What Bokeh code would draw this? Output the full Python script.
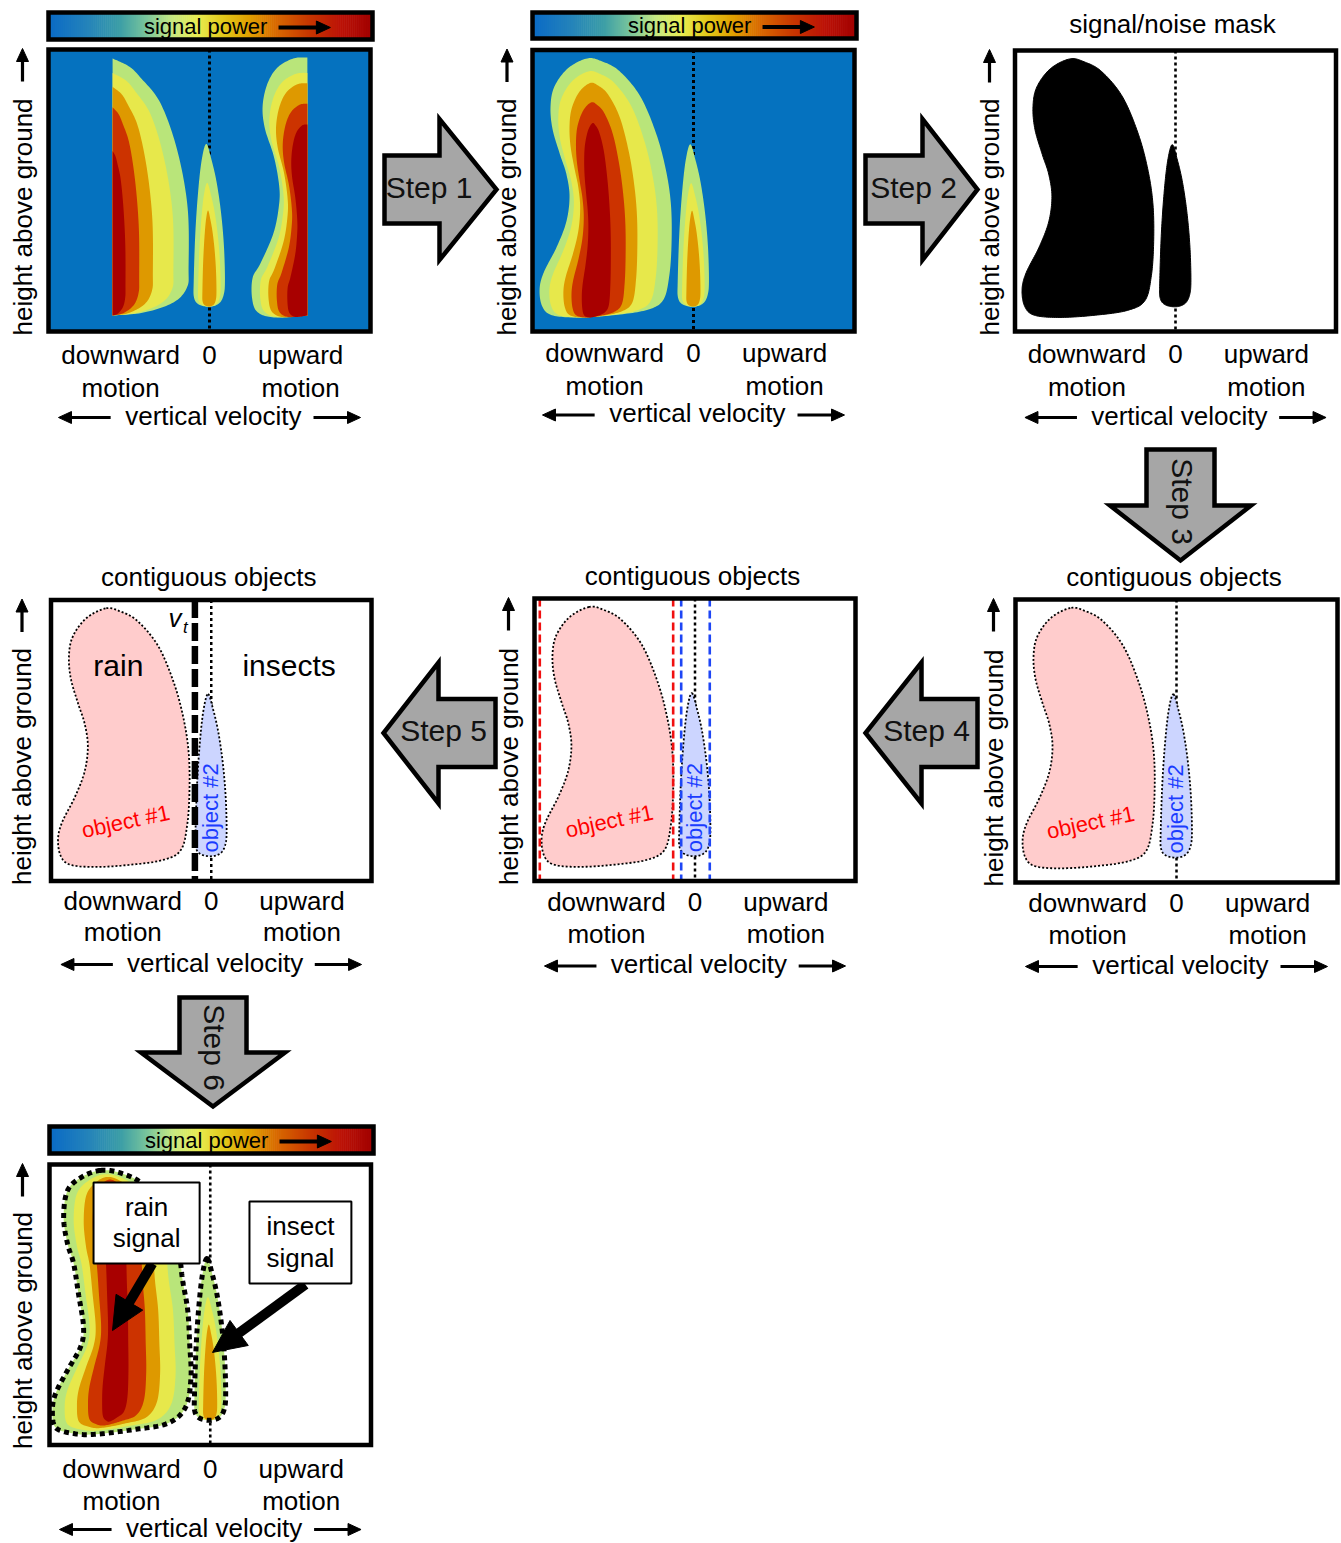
import numpy as np
from bokeh.plotting import figure
from bokeh.models import Range1d
from bokeh.embed import file_html
from bokeh.resources import INLINE
from bokeh.core.properties import value

# ------------------------------------------------------------------
# chart content (texts and schematic shapes)
# ------------------------------------------------------------------
X_WORDS_TOP = ["downward", "0", "upward"]
X_WORDS_BOTTOM = ["motion", "motion"]
X_TITLE = "vertical velocity"
Y_TITLE = "height above ground"
CB_TITLE = "signal power"
STEP_LABELS = ["Step 1", "Step 2", "Step 3", "Step 4", "Step 5", "Step 6"]
TITLE_MASK = "signal/noise mask"
TITLE_OBJ = "contiguous objects"
OBJ_LABELS = ["object #1", "object #2"]
CLASS_LABELS = ["rain", "insects"]
VT_LABEL = ["v", "t"]
BOX_LABELS = [["rain", "signal"], ["insect", "signal"]]

# shape outlines in panel fractions (fx: 0 left .. 1 right, fy: 0 bottom .. 1 top)
RAIN_FX = [0.170, 0.110, 0.068, 0.056, 0.062, 0.085, 0.105, 0.115, 0.105, 0.075, 0.035, 0.022, 0.030,
           0.060, 0.140, 0.250, 0.350, 0.405, 0.425, 0.432, 0.430, 0.415, 0.385, 0.335, 0.270, 0.215]
RAIN_FY = [0.970, 0.935, 0.870, 0.800, 0.720, 0.630, 0.560, 0.480, 0.390, 0.300, 0.210, 0.150, 0.090,
           0.058, 0.050, 0.058, 0.075, 0.110, 0.200, 0.320, 0.450, 0.570, 0.700, 0.835, 0.925, 0.960]
INSECT_FX = [0.490, 0.506, 0.522, 0.536, 0.545, 0.548, 0.544, 0.530, 0.502, 0.468, 0.452, 0.451, 0.456, 0.465, 0.476]
INSECT_FY = [0.665, 0.610, 0.530, 0.420, 0.300, 0.180, 0.130, 0.100, 0.088, 0.095, 0.120, 0.180, 0.350, 0.500, 0.610]
# step-0 spectrum: downward part (open curve, closed by a vertical edge)
DOWN_FX = [0.199, 0.250, 0.286, 0.348, 0.400, 0.432, 0.435, 0.430, 0.388, 0.295, 0.199]
DOWN_FY = [0.968, 0.940, 0.900, 0.809, 0.642, 0.440, 0.227, 0.156, 0.103, 0.067, 0.057]
# step-0 spectrum: upward (aliased) part
UP_FX = [0.804, 0.760, 0.711, 0.680, 0.665, 0.672, 0.700, 0.716, 0.716, 0.699, 0.658, 0.634, 0.632, 0.648, 0.700, 0.804]
UP_FY = [0.972, 0.968, 0.936, 0.879, 0.800, 0.720, 0.620, 0.520, 0.450, 0.350, 0.241, 0.191, 0.120, 0.070, 0.050, 0.057]
# final rain signal outline
RAIN7_FX = [0.159, 0.100, 0.056, 0.044, 0.056, 0.075, 0.090, 0.106, 0.096, 0.056, 0.019, 0.009, 0.019,
            0.075, 0.140, 0.262, 0.367, 0.423, 0.440, 0.436, 0.430, 0.414, 0.400, 0.360, 0.290, 0.220]
RAIN7_FY = [0.979, 0.955, 0.907, 0.811, 0.718, 0.647, 0.540, 0.419, 0.348, 0.266, 0.184, 0.123, 0.062,
            0.041, 0.038, 0.055, 0.077, 0.134, 0.240, 0.360, 0.480, 0.587, 0.700, 0.830, 0.930, 0.970]

# signal-power contour levels (outer -> inner) : relative size of each level
LEVEL_COLORS = ["#B9E57A", "#E7E84B", "#DE9900", "#CC3300", "#A80000"]
DOWN_LEVEL_SX = [1.0, 0.80, 0.53, 0.35, 0.17]
DOWN_LEVEL_SY = [1.0, 0.944, 0.89, 0.81, 0.64]
UP_LEVEL_SX = [1.0, 0.85, 0.70, 0.55, 0.36]
UP_LEVEL_SY = [1.0, 0.94, 0.90, 0.82, 0.74]
RAIN_LEVEL_SX = [1.0, 0.82, 0.56, 0.41, 0.22]
RAIN_LEVEL_SY = [1.0, 0.95, 0.905, 0.83, 0.75]
RAIN7_LEVEL_SX = [1.0, 0.80, 0.60, 0.42, 0.19]
RAIN7_LEVEL_SY = [1.0, 0.97, 0.95, 0.93, 0.90]
INSECT_LEVEL_SX = [1.0, 0.72, 0.45]
INSECT_LEVEL_SY = [1.0, 0.76, 0.59]

# velocity bounds (panel fractions)
OBJ1_BOUNDS = [0.0165, 0.432]
OBJ2_BOUNDS = [0.457, 0.546]
VT_FX = 0.449

CB_STOPS = [0.00, 0.12, 0.22, 0.30, 0.38, 0.46, 0.54, 0.62, 0.70, 0.80, 0.90, 1.00]
CB_COLORS = ["#0A6AC6", "#2483BA", "#3C9EA6", "#78C49C", "#C6E882", "#E8EC50",
             "#E2C81A", "#E0A000", "#D86A00", "#C83800", "#BC1206", "#A00000"]

# ------------------------------------------------------------------
# layout (page pixels)
# ------------------------------------------------------------------
PANELS = {
    "p1": (48, 49, 370, 331),
    "p2": (532, 49.5, 854, 331),
    "p3": (1014.5, 50, 1335.5, 331),
    "p4": (50.5, 599.5, 371, 880.5),
    "p5": (534, 598, 855, 880.5),
    "p6": (1015, 599, 1337, 882),
    "p7": (49, 1164, 370.5, 1444.5),
}
XLAB_Y = {"p1": (354, 387, 415), "p2": (352.5, 385, 412.5), "p3": (353.5, 386, 415),
          "p4": (900, 931.5, 962), "p5": (901.5, 933.5, 963.5), "p6": (902, 934, 964),
          "p7": (1468.5, 1500.5, 1527)}
YLAB_X = {"p1": 22, "p2": 506.5, "p3": 989, "p4": 21.5, "p5": 508, "p6": 993, "p7": 22}
CBARS = {"p1": (48, 12, 372, 39), "p2": (532, 12, 856, 38), "p7": (49, 1126, 373, 1153)}

BLUE = "#0572BF"
PINK = "#FFCCCC"
LIGHTBLUE = "#CCD5FF"
GRAY = "#A6A6A6"
FONT = value("Liberation Sans")

p = figure(width=1341, height=1543, x_range=Range1d(0, 1341), y_range=Range1d(1543, 0),
           x_axis_location=None, y_axis_location=None, toolbar_location=None,
           output_backend="svg", min_border=0)
p.outline_line_color = None
p.grid.visible = False
p.background_fill_color = "white"
p.border_fill_color = "white"


def smooth(xs, ys, closed=True, n=14):
    P = np.column_stack([xs, ys]).astype(float)
    if closed:
        E = np.vstack([P[-1], P, P[0], P[1]])
        rng = range(1, len(P) + 1)
    else:
        E = np.vstack([P[0], P, P[-1]])
        rng = range(1, len(P))
    out = []
    for i in rng:
        p0, p1, p2, p3 = E[i - 1], E[i], E[i + 1], E[i + 2]
        for t in np.linspace(0, 1, n, endpoint=False):
            t2, t3 = t * t, t * t * t
            out.append(0.5 * (2 * p1 + (-p0 + p2) * t + (2 * p0 - 5 * p1 + 4 * p2 - p3) * t2
                              + (-p0 + 3 * p1 - 3 * p2 + p3) * t3))
    if not closed:
        out.append(P[-1])
    out = np.array(out)
    return out[:, 0], out[:, 1]


def to_page(panel, fx, fy):
    L, T, R, B = PANELS[panel]
    return L + np.asarray(fx) * (R - L), B - np.asarray(fy) * (B - T)


def txt(x, y, s, size=26, angle=0.0, align="center", baseline="middle", color="black", style="normal"):
    p.text(x=[x], y=[y], text=[s], angle=angle, text_font=FONT, text_font_size=f"{size}px",
           text_align=align, text_baseline=baseline, text_color=color, text_font_style=style)


def small_arrow(x0, y0, x1, y1, lw=3.2, hl=13, hw=12):
    d = np.array([x1 - x0, y1 - y0], float)
    u = d / np.hypot(*d)
    nrm = np.array([-u[1], u[0]])
    tip = np.array([x1, y1], float)
    base = tip - hl * u
    p.segment(x0=[x0], y0=[y0], x1=[base[0] + u[0]], y1=[base[1] + u[1]], line_width=lw, line_color="black")
    c1 = base + nrm * hw / 2
    c2 = base - nrm * hw / 2
    p.patch([tip[0], c1[0], c2[0]], [tip[1], c1[1], c2[1]], fill_color="black", line_color="black", line_width=1)


def layered(panel, fx, fy, closed, anchor, sxs, sys, colors):
    sx_, sy_ = smooth(fx, fy, closed)
    for sx, sy, c in zip(sxs, sys, colors):
        lx = anchor[0] + sx * (sx_ - anchor[0])
        ly = anchor[1] + sy * (sy_ - anchor[1])
        X, Y = to_page(panel, lx, ly)
        p.patch(X, Y, fill_color=c, line_color=None)


def zero_line(panel, lw=2.6, dash="3 3"):
    L, T, R, B = PANELS[panel]
    x = L + 0.5 * (R - L)
    p.segment(x0=[x], y0=[T], x1=[x], y1=[B], line_color="black", line_width=lw, line_dash=dash)


def frame(panel):
    L, T, R, B = PANELS[panel]
    p.quad(left=[L], right=[R], top=[T], bottom=[B], fill_color=None, line_color="black",
           line_width=4.5, line_join="miter")


def axis_texts(panel):
    L, T, R, B = PANELS[panel]
    W = R - L
    y1, y2, y3 = XLAB_Y[panel]
    for f, s in zip([0.224, 0.5, 0.783], X_WORDS_TOP):
        txt(L + f * W, y1, s)
    for f, s in zip([0.224, 0.783], X_WORDS_BOTTOM):
        txt(L + f * W, y2, s)
    txt(L + 0.512 * W, y3, X_TITLE)
    small_arrow(L + 0.193 * W, y3 + 2, L + 0.031 * W, y3 + 2)
    small_arrow(L + 0.823 * W, y3 + 2, L + 0.969 * W, y3 + 2)
    xl = YLAB_X[panel]
    txt(xl, B + 4, Y_TITLE, angle=np.pi / 2, align="left")
    small_arrow(xl, T + 32, xl, T - 1)


def colorbar(key):
    L, T, R, B = CBARS[key]
    n = 160
    edges = np.linspace(L, R, n + 1)
    mids = (np.arange(n) + 0.5) / n
    rgb = [tuple(int(CB_COLORS[i][k:k + 2], 16) for k in (1, 3, 5)) for i in range(len(CB_COLORS))]
    cols = []
    for m in mids:
        ch = [np.interp(m, CB_STOPS, [c[k] for c in rgb]) for k in range(3)]
        cols.append("#%02x%02x%02x" % tuple(int(round(v)) for v in ch))
    p.quad(left=edges[:-1], right=edges[1:] + 0.6, top=[T] * n, bottom=[B] * n,
           fill_color=cols, line_color=None)
    p.quad(left=[L], right=[R], top=[T], bottom=[B], fill_color=None, line_color="black",
           line_width=4.5, line_join="miter")
    W = R - L
    yc = (T + B) / 2
    txt(L + 0.485 * W, yc, CB_TITLE, size=22)
    small_arrow(L + 0.71 * W, yc + 1.5, L + 0.87 * W, yc + 1.5, lw=4, hl=14, hw=13)


def block_arrow(bx, by, dx, dy, head_at, tip_at, sh=34, hh=70.5):
    local = [(0, -sh), (head_at, -sh), (head_at, -hh), (tip_at, 0), (head_at, hh), (head_at, sh), (0, sh)]
    xs = [bx + a * dx - b * dy for a, b in local]
    ys = [by + a * dy + b * dx for a, b in local]
    p.patch(xs, ys, fill_color=GRAY, line_color="black", line_width=4.5, line_join="miter")


# ---------------- panel 1 : raw spectrum ----------------
L, T, R, B = PANELS["p1"]
p.quad(left=[L], right=[R], top=[T], bottom=[B], fill_color=BLUE, line_color=None)
zero_line("p1", lw=3)
layered("p1", DOWN_FX, DOWN_FY, False, (0.199, 0.057), DOWN_LEVEL_SX, DOWN_LEVEL_SY, LEVEL_COLORS)
layered("p1", UP_FX, UP_FY, False, (0.804, 0.057), UP_LEVEL_SX, UP_LEVEL_SY, LEVEL_COLORS)
layered("p1", INSECT_FX, INSECT_FY, True, (0.5, 0.09), INSECT_LEVEL_SX, INSECT_LEVEL_SY, LEVEL_COLORS[:3])
frame("p1")
colorbar("p1")
axis_texts("p1")

# ---------------- panel 2 : dealiased ----------------
L, T, R, B = PANELS["p2"]
p.quad(left=[L], right=[R], top=[T], bottom=[B], fill_color=BLUE, line_color=None)
zero_line("p2", lw=3)
layered("p2", RAIN_FX, RAIN_FY, True, (0.19, 0.05), RAIN_LEVEL_SX, RAIN_LEVEL_SY, LEVEL_COLORS)
layered("p2", INSECT_FX, INSECT_FY, True, (0.5, 0.09), INSECT_LEVEL_SX, INSECT_LEVEL_SY, LEVEL_COLORS[:3])
frame("p2")
colorbar("p2")
axis_texts("p2")

# ---------------- panel 3 : mask ----------------
zero_line("p3")
for fx, fy in [(RAIN_FX, RAIN_FY), (INSECT_FX, INSECT_FY)]:
    sx_, sy_ = smooth(fx, fy)
    X, Y = to_page("p3", sx_, sy_)
    p.patch(X, Y, fill_color="black", line_color="black", line_width=1)
frame("p3")
axis_texts("p3")
L, T, R, B = PANELS["p3"]
txt((L + R) / 2 - 3, T - 27, TITLE_MASK)


# ---------------- panels 4-6 : objects ----------------
def objects(panel):
    zero_line(panel, lw=2.5, dash="3 3")
    for fx, fy, col in [(RAIN_FX, RAIN_FY, PINK), (INSECT_FX, INSECT_FY, LIGHTBLUE)]:
        sx_, sy_ = smooth(fx, fy)
        X, Y = to_page(panel, sx_, sy_)
        p.patch(X, Y, fill_color=col, line_color="black", line_width=1.8, line_dash="2 2")
    x1, y1 = to_page(panel, 0.233, 0.212)
    txt(float(x1), float(y1), OBJ_LABELS[0], size=22, angle=np.radians(12), color="#FF0000")
    x2, y2 = to_page(panel, 0.497, 0.26)
    txt(float(x2), float(y2), OBJ_LABELS[1], size=22, angle=np.pi / 2, color="#1A3CFF")
    L, T, R, B = PANELS[panel]
    txt((L + R) / 2 - 2.5, T - 23, TITLE_OBJ)


objects("p6")
frame("p6")
axis_texts("p6")

objects("p5")
L, T, R, B = PANELS["p5"]
for f in OBJ1_BOUNDS:
    x = L + f * (R - L)
    p.segment(x0=[x], y0=[T], x1=[x], y1=[B], line_color="#F01010", line_width=2.6, line_dash="8 4")
for f in OBJ2_BOUNDS:
    x = L + f * (R - L)
    p.segment(x0=[x], y0=[T], x1=[x], y1=[B], line_color="#1E46F5", line_width=2.6, line_dash="8 4")
frame("p5")
axis_texts("p5")

objects("p4")
L, T, R, B = PANELS["p4"]
xv = L + VT_FX * (R - L)
p.segment(x0=[xv], y0=[T], x1=[xv], y1=[B], line_color="black", line_width=6.5, line_dash="18 5")
txt(xv - 20, T + 18, VT_LABEL[0], size=26, style="italic")
txt(xv - 9.5, T + 27, VT_LABEL[1], size=17, style="italic")
txt(L + 0.21 * (R - L), T + 65, CLASS_LABELS[0], size=30)
txt(L + 0.743 * (R - L), T + 65, CLASS_LABELS[1], size=30)
frame("p4")
axis_texts("p4")

# ---------------- panel 7 : final ----------------
zero_line("p7", lw=2.6)
layered("p7", RAIN7_FX, RAIN7_FY, True, (0.2, 0.5), RAIN7_LEVEL_SX, RAIN7_LEVEL_SY, LEVEL_COLORS)
layered("p7", INSECT_FX, INSECT_FY, True, (0.5, 0.09), INSECT_LEVEL_SX, INSECT_LEVEL_SY, LEVEL_COLORS[:3])
for fx, fy in [(RAIN7_FX, RAIN7_FY), (INSECT_FX, INSECT_FY)]:
    sx_, sy_ = smooth(fx, fy)
    X, Y = to_page("p7", sx_, sy_)
    p.patch(X, Y, fill_color=None, line_color="black", line_width=5, line_dash="5 4")
frame("p7")
colorbar("p7")
axis_texts("p7")

# annotation boxes and arrows
for (fl, fr, ft, fb), words, (sfx, sfy, efx, efy) in [
        ((0.137, 0.467, 0.936, 0.647), BOX_LABELS[0], (0.32, 0.647, 0.196, 0.408)),
        ((0.622, 0.939, 0.868, 0.576), BOX_LABELS[1], (0.796, 0.572, 0.507, 0.33))]:
    (l, r), (t, b) = to_page("p7", [fl, fr], [ft, fb])
    xs0, ys0 = to_page("p7", sfx, sfy)
    xe, ye = to_page("p7", efx, efy)
    small_arrow(float(xs0), float(ys0), float(xe), float(ye), lw=10, hl=33, hw=31)
    p.quad(left=[l], right=[r], top=[t], bottom=[b], fill_color="white", line_color="black", line_width=2)
    txt((l + r) / 2, t + 24.5, words[0])
    txt((l + r) / 2, t + 56, words[1])

# ---------------- step arrows ----------------
block_arrow(384, 189, 1, 0, 55, 112)
txt(428.5, 187, STEP_LABELS[0], size=30, color="#111111")
block_arrow(865, 189, 1, 0, 57, 112)
txt(913, 187, STEP_LABELS[1], size=30, color="#111111")
block_arrow(1180, 449, 0, 1, 56, 111)
txt(1182, 501, STEP_LABELS[2], size=30, angle=-np.pi / 2, color="#111111")
block_arrow(977, 732.5, -1, 0, 56, 112)
txt(926, 730, STEP_LABELS[3], size=30, color="#111111")
block_arrow(495, 732.5, -1, 0, 57, 112)
txt(443, 730, STEP_LABELS[4], size=30, color="#111111")
block_arrow(212.5, 997, 0, 1, 55, 109, sh=33.5, hh=72)
txt(214, 1047, STEP_LABELS[5], size=30, angle=-np.pi / 2, color="#111111")

open("out.html", "w").write(file_html(p, INLINE))
